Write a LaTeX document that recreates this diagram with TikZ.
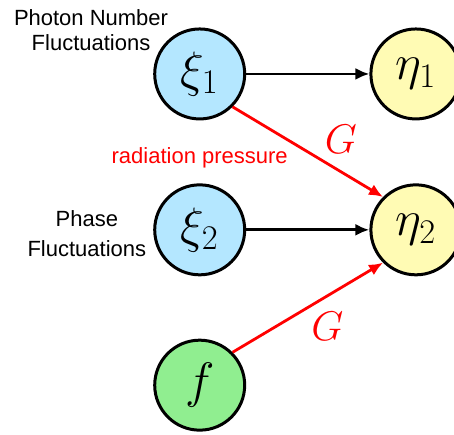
\documentclass[tikz,border=0pt]{standalone}
\usepackage{amsmath,amssymb}
\usepackage{fontspec}
\usepackage{tikz}
\usetikzlibrary{arrows.meta,positioning}
\newfontfamily\lblfont{Liberation Sans}
\definecolor{noiseblue}{RGB}{180,231,255}
\definecolor{outyellow}{RGB}{255,251,180}
\definecolor{forcegreen}{RGB}{144,238,144}

\begin{document}
\begin{tikzpicture}[
        vertex/.style={circle, draw, line width=1.5pt, minimum size=45pt, inner sep=0pt, font=\fontsize{25}{30}\selectfont},
        noise/.style={vertex, fill=noiseblue},
        output/.style={vertex, fill=outyellow},
        force/.style={vertex, fill=forcegreen},
        flow/.style={draw, line width=1.4pt, -{Latex[length=7pt,width=6pt]}},
        coupling/.style={flow, red},
        lbl/.style={font=\lblfont\fontsize{11}{13}\selectfont, align=center},
        gain/.style={font=\fontsize{22}{26}\selectfont, text=red}
    ]
        \useasboundingbox (0,0) rectangle (7.98,7.63);

        \node[noise] (xi1) at (3.51, 6.33) {$\xi_1$};
        \node[noise] (xi2) at (3.51, 3.59) {$\xi_2$};
        \node[force] (f) at (3.51, 0.86) {$f$};
        \node[output] (eta1) at (7.31, 6.33) {$\eta_1$};
        \node[output] (eta2) at (7.31, 3.59) {$\eta_2$};

        \node[lbl] (photon) at (1.6, 7.1) {Photon Number\\Fluctuations};
        \node[lbl, font=\lblfont\fontsize{11}{15}\selectfont, left=0pt of xi2, yshift=-2pt] (phase) {Phase\\Fluctuations};
        \node[lbl, text=red, below=10pt of xi1] (radp) {radiation pressure};

        \draw[flow] (xi1) -- (eta1);
        \draw[flow] (xi2) -- (eta2);
        \draw[coupling] (xi1.south east) -- node[gain, pos=0.72, above=5pt] {$G$} (eta2.north west);
        \draw[coupling] (f.north east) -- node[gain, pos=0.63, below=4pt] {$G$} (eta2.south west);
    \end{tikzpicture}
\end{document}
